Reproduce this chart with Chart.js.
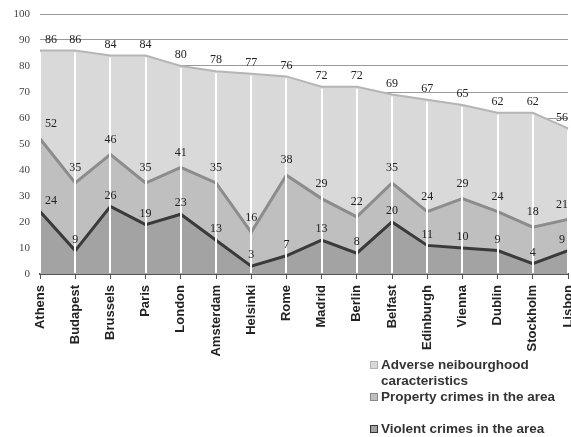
<!DOCTYPE html>
<html>
<head>
<meta charset="utf-8">
<script src="https://cdn.jsdelivr.net/npm/chart.js@4.4.1/dist/chart.umd.min.js"></script>
<style>
  body { margin: 0; background: #fff; }
  #wrap { position: relative; width: 571px; height: 437px; overflow: hidden; }
  .leg { position: absolute; font-family: "Liberation Sans", Arial, sans-serif; font-weight: bold; font-size: 13.5px; color: #333; line-height: 16px; }
  .leg i { position: absolute; left: -11px; top: 4px; width: 6px; height: 6px; border: 1px solid; }
</style>
</head>
<body>
<div id="wrap">
  <canvas id="chart" width="571" height="437"></canvas>
  <div class="leg" style="left:381px; top:357px;"><i style="background:#d9d9d9;border-color:#b3b3b3"></i>Adverse neibourghood<br>caracteristics</div>
  <div class="leg" style="left:381px; top:389px;"><i style="background:#bfbfbf;border-color:#8a8a8a"></i>Property crimes in the area</div>
  <div class="leg" style="left:381px; top:421px;"><i style="background:#a3a3a3;border-color:#333"></i>Violent crimes in the area</div>
</div>
<script>
var cities = ['Athens', 'Budapest', 'Brussels', 'Paris', 'London', 'Amsterdam', 'Helsinki', 'Rome',
    'Madrid', 'Berlin', 'Belfast', 'Edinburgh', 'Vienna', 'Dublin', 'Stockholm', 'Lisbon'];
var adverse = [86, 86, 84, 84, 80, 78, 77, 76, 72, 72, 69, 67, 65, 62, 62, 56];
var property = [52, 35, 46, 35, 41, 35, 16, 38, 29, 22, 35, 24, 29, 24, 18, 21];
var violent = [24, 9, 26, 19, 23, 13, 3, 7, 13, 8, 20, 11, 10, 9, 4, 9];
var yTicks = [0, 10, 20, 30, 40, 50, 60, 70, 80, 90, 100];

// white drop lines from the top series down to the axis
const dropLines = {
    id: 'dropLines',
    afterDatasetsDraw(chart) {
        const ctx = chart.ctx;
        const x = chart.scales.x, y = chart.scales.y;
        ctx.save();
        ctx.strokeStyle = '#ffffff';
        ctx.lineWidth = 2;
        adverse.forEach((v, i) => {
            const px = Math.round(x.getPixelForValue(i));
            ctx.beginPath();
            ctx.moveTo(px, y.getPixelForValue(v) + 2);
            ctx.lineTo(px, y.getPixelForValue(0) - 1);
            ctx.stroke();
        });
        ctx.restore();
    }
};

// value labels above each point
const valueLabels = {
    id: 'valueLabels',
    afterDraw(chart) {
        const ctx = chart.ctx;
        const x = chart.scales.x, y = chart.scales.y;
        const area = chart.chartArea;
        ctx.save();
        ctx.font = '12px "Liberation Serif", "Times New Roman", serif';
        ctx.fillStyle = '#222';
        ctx.textAlign = 'center';
        ctx.textBaseline = 'middle';
        const sets = [[adverse, 11], [property, 15], [violent, 11]];
        sets.forEach(s => {
            s[0].forEach((v, i) => {
                let px = x.getPixelForValue(i);
                px = Math.min(Math.max(px, area.left + 11), area.right - 6);
                ctx.fillText(String(v), px, y.getPixelForValue(v) - s[1]);
            });
        });
        ctx.restore();
    }
};

const ctx = document.getElementById('chart').getContext('2d');
const chart = new Chart(ctx, {
    type: 'line',
    data: {
        labels: cities,
        datasets: [
            {
                label: 'Adverse neibourghood caracteristics',
                data: adverse,
                fill: 'origin',
                backgroundColor: '#d9d9d9',
                borderColor: '#b5b5b5',
                borderWidth: 2,
                order: 3
            },
            {
                label: 'Property crimes in the area',
                data: property,
                fill: 'origin',
                backgroundColor: '#bfbfbf',
                borderColor: '#8c8c8c',
                borderWidth: 3,
                order: 2
            },
            {
                label: 'Violent crimes in the area',
                data: violent,
                fill: 'origin',
                backgroundColor: '#a3a3a3',
                borderColor: '#3a3a3a',
                borderWidth: 3,
                order: 1
            }
        ]
    },
    options: {
        responsive: false,
        animation: false,
        elements: { point: { radius: 0 }, line: { tension: 0 } },
        layout: { padding: { top: 14, right: 3, left: 0, bottom: 0 } },
        plugins: {
            legend: { display: false },
            tooltip: { enabled: false }
        },
        scales: {
            x: {
                offset: false,
                grid: { drawOnChartArea: false, drawTicks: true, tickLength: 5, color: '#555' },
                border: { display: true, color: '#555', width: 2 },
                ticks: {
                    minRotation: 90,
                    maxRotation: 90,
                    autoSkip: false,
                    padding: 6,
                    color: '#222',
                    font: { family: '"Liberation Sans", Arial, sans-serif', size: 13, weight: 'bold' }
                },
                afterFit(scale) {
                    scale.height = 163;
                    scale.paddingLeft = 0;
                    scale.paddingRight = 0;
                }
            },
            y: {
                min: 0,
                max: 100,
                afterBuildTicks(scale) {
                    scale.ticks = yTicks.map(v => ({ value: v }));
                },
                grid: { color: '#9a9a9a', lineWidth: 1, drawTicks: false },
                border: { display: false },
                ticks: {
                    padding: 10,
                    color: '#444',
                    font: { family: '"Liberation Serif", "Times New Roman", serif', size: 11 }
                },
                afterFit(scale) {
                    scale.width = 40;
                    scale.paddingTop = 0;
                    scale.paddingBottom = 0;
                }
            }
        }
    },
    plugins: [dropLines, valueLabels]
});
</script>
</body>
</html>
